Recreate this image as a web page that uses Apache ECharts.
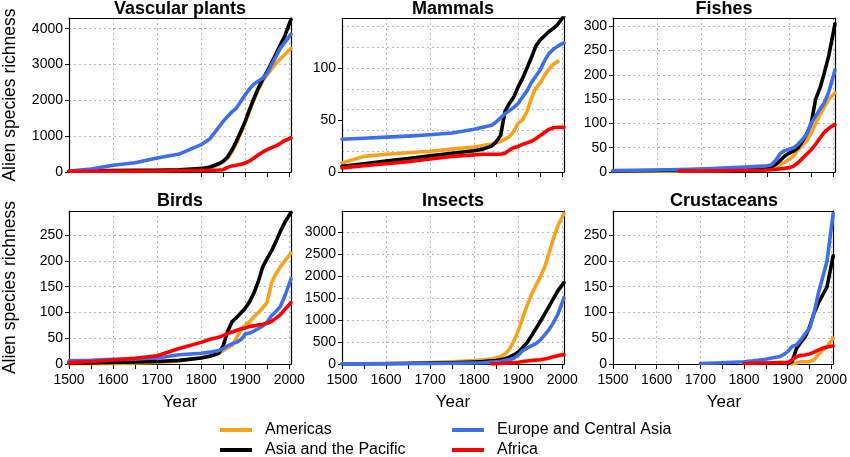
<!DOCTYPE html>
<html>
<head>
<meta charset="utf-8">
<script src="https://cdn.jsdelivr.net/npm/echarts@6/dist/echarts.min.js"></script>
<style>
html,body{margin:0;padding:0;background:#fff;}
#chart{width:850px;height:457px;}
</style>
</head>
<body>
<div id="chart"></div>
<script>
// ---------- DATA ----------
const regions = ['Americas', 'Asia and the Pacific', 'Europe and Central Asia', 'Africa'];
const years = [1500,1550,1600,1650,1700,1750,1800,1820,1840,1850,1860,1870,1880,1890,1900,1910,1920,1930,1940,1950,1960,1970,1980,1990,2004];
const n = null;

const vascularAmericas = [20,25,30,35,40,50,100,120,200,280,380,560,800,1080,1380,1720,2020,2300,2550,2716,2880,3030,3160,3280,3450];
const vascularAsia     = [30,35,40,45,50,60,93,140,230,300,420,620,856,1130,1414,1750,2060,2350,2600,2809,3050,3300,3550,3800,4260];
const vascularEurope   = [30,80,190,260,390,500,763,930,1250,1414,1550,1680,1786,1970,2158,2320,2460,2540,2620,2762,3000,3230,3460,3620,3850];
const vascularAfrica   = [20,20,25,25,30,35,40,45,55,65,130,170,186,215,250,310,390,480,560,623,680,730,800,880,950];

const mammalsAmericas = [8.6,15,17,18.5,20,22,24,25.5,27,28,29.5,31.5,34,39,47,50,58,71,80.7,85.5,93,99,103.5,106.5,n];
const mammalsAsia     = [5.5,8,10.5,13,15.5,18,20.4,22,25,29,35,58,66,72,82,90,100,110,121,127,131,135,138,142,150];
const mammalsEurope   = [31.5,32.5,33.5,34.5,35.8,37.5,41,43,45,48,52,56,59,62,66,72,78,86,92,98,107,114,118,121,124];
const mammalsAfrica   = [4,6,8,10,12.5,15,16.5,17,17,17,17,18,21,23.5,24.6,26.5,28,29.5,32,35,38,41,42.5,43,43];

const fishesAmericas = [1,1,1.5,2,2.5,3,4,5,6,7,8,11,16,20,26,33,45,55,64,80,100,118,134,150,163];
const fishesAsia     = [2,2.5,3,4,5,6,7,8,9,10,11,16,24,33,39,43,50,63,79,100,150,173,205,240,305];
const fishesEurope   = [3,3.5,4,5,6,8,10,11,12,13,15,25,38,44,47,50,57,67,78,100,115,129,143,165,210];
const fishesAfrica   = [n,n,n,2,2,2.5,3,3,3.5,4,4.5,5.5,6.5,7.5,9,12,19,28,37,46,57,70,82,90,98];

const birdsAmericas = [0,0.5,1,2,3,6,12,16,21,26,31,36,50,66,75,82,92,100,109,120,158,175,189,200,215];
const birdsAsia     = [2,2,3,4,5,7,11.6,15,21,35,63,82,90,99,108,121,138,161,189,205,220,238,258,275,294];
const birdsEurope   = [6,7,9,10,11.6,18,21,23,26,30,35,39,42,47,58,60,64,69,74,82,94,102,112,132,165];
const birdsAfrica   = [2.6,5,7.8,11,16,30,42,48,52,55,59,62,65,68,70,73,74,76,77,79,83,89,96,106,119];

const insectsAmericas = [n,n,10,20,35,50,76,95,115,135,170,230,330,520,750,1043,1320,1570,1780,1970,2200,2510,2850,3140,3420];
const insectsAsia     = [0,2,5,10,20,30,45,55,70,80,95,120,155,205,270,370,480,640,800,960,1135,1310,1485,1660,1850];
const insectsEurope   = [5,7,8,10,12,16,23,30,42,50,60,80,100,130,200,300,360,410,460,545,660,780,940,1130,1500];
const insectsAfrica   = [n,n,n,n,n,n,n,n,2,5,10,18,25,32,40,55,68,78,88,98,115,135,165,190,215];

const crustAmericas = [n,n,n,n,n,n,n,n,n,n,n,n,n,n,n,0,2,4.5,4.5,4.5,8,18,27,34,50];
const crustAsia     = [n,n,n,n,n,n,n,n,n,n,n,n,n,n,0,5,30,42,53,72,98,118,134,150,210];
const crustEurope   = [n,n,n,n,1,2.5,4.5,6,8,9,11,12.5,14,18,24,34,37,46.5,59,69,98,137,168,200,292];
const crustAfrica   = [n,n,n,n,n,n,1,1.5,2,2,2.5,2.5,3,3,3,8,14,17,17.4,19.5,23,27,30.5,33,35];

const panelTitles = ['Vascular plants','Mammals','Fishes','Birds','Insects','Crustaceans'];
const yMax   = [4300, 148, 317, 297, 3476, 297];
const ySplit = [1000, 20, 50, 50, 500, 50];
const yTickLabels = [
  [0,1000,2000,3000,4000],
  [0,50,100],
  [0,50,100,150,200,250,300],
  [0,50,100,150,200,250],
  [0,500,1000,1500,2000,2500,3000],
  [0,50,100,150,200,250]
];
const xTickLabels = [1500,1600,1700,1800,1900,2000];
const xTicksTop = [1800,1850,1900,1950,2000];
const xTicksBottom = [1500,1550,1600,1650,1700,1750,1800,1850,1900,1950,2000];
const panelData = [
  [vascularAmericas, vascularAsia, vascularEurope, vascularAfrica],
  [mammalsAmericas, mammalsAsia, mammalsEurope, mammalsAfrica],
  [fishesAmericas, fishesAsia, fishesEurope, fishesAfrica],
  [birdsAmericas, birdsAsia, birdsEurope, birdsAfrica],
  [insectsAmericas, insectsAsia, insectsEurope, insectsAfrica],
  [crustAmericas, crustAsia, crustEurope, crustAfrica]
];

// ---------- STYLE / LAYOUT ----------
const FONT = '"Liberation Sans", Arial, Helvetica, sans-serif';
const colors = ['#F7A21B', '#000000', '#3D6EEB', '#FF0000'];
const colLeft = [69, 342, 613];
const colWidth = 222;
const rowTop = [18, 211];
const rowHeight = [154, 153];
const gridLineStyle = {type: [2, 3], color: '#b8b8b8', width: 1};
const plain = v => String(v);
const frameLine = {show: true, onZero: false, lineStyle: {color: '#000', width: 1.2}};
const off = {show: false};

const grids = [], xAxes = [], yAxes = [], series = [], graphics = [];

for (let i = 0; i < 6; i++) {
  const r = Math.floor(i / 3), c = i % 3;
  grids.push({left: colLeft[c], top: rowTop[r], width: colWidth, height: rowHeight[r], show: false, containLabel: false});
  // x: grid lines
  xAxes.push({gridIndex: i, type: 'value', min: 1500, max: 2004, interval: 100,
    axisLine: off, axisTick: off, axisLabel: off,
    splitLine: {show: true, lineStyle: gridLineStyle}});
  // x: bottom ticks/labels
  xAxes.push({gridIndex: i, type: 'value', min: 1500, max: 2004, position: 'bottom',
    axisLine: frameLine,
    axisTick: {show: true, customValues: r === 0 ? xTicksTop : xTicksBottom, length: 5, lineStyle: {color: '#000', width: 1}},
    axisLabel: {show: r === 1, customValues: xTickLabels, formatter: plain, margin: 9, fontSize: 14, color: '#000', fontFamily: FONT},
    splitLine: off});
  // x: top frame
  xAxes.push({gridIndex: i, type: 'value', min: 1500, max: 2004, position: 'top',
    axisLine: frameLine, axisTick: off, axisLabel: off, splitLine: off});
  // y: grid lines
  yAxes.push({gridIndex: i, type: 'value', min: 0, max: yMax[i], interval: ySplit[i], position: 'left',
    axisLine: off, axisTick: off, axisLabel: off,
    splitLine: {show: true, lineStyle: gridLineStyle}});
  // y: left ticks/labels
  yAxes.push({gridIndex: i, type: 'value', min: 0, max: yMax[i], position: 'left',
    axisLine: frameLine,
    axisTick: {show: true, customValues: yTickLabels[i], length: 4, lineStyle: {color: '#000', width: 1}},
    axisLabel: {show: true, customValues: yTickLabels[i], formatter: plain, margin: 6, fontSize: 14, color: '#000', fontFamily: FONT},
    splitLine: off});
  // y: right frame
  yAxes.push({gridIndex: i, type: 'value', min: 0, max: yMax[i], position: 'right',
    axisLine: frameLine, axisTick: off, axisLabel: off, splitLine: off});

  for (let k = 0; k < 4; k++) {
    const vals = panelData[i][k];
    const data = [];
    years.forEach((y, j) => { if (vals[j] !== null) data.push([y, vals[j]]); });
    series.push({type: 'line', name: regions[k], xAxisIndex: 3 * i, yAxisIndex: 3 * i,
      data: data, showSymbol: false, symbol: 'none', smooth: false, clip: true,
      lineStyle: {color: colors[k], width: 3.6, cap: 'round', join: 'round'},
      itemStyle: {color: colors[k]}, z: 2 + k, emphasis: {disabled: true}});
  }

  const cx = colLeft[c] + colWidth / 2;
  graphics.push({type: 'text', x: cx, y: r === 0 ? 9 : 201, silent: true,
    style: {text: panelTitles[i], align: 'center', verticalAlign: 'middle', textAlign: 'center', textVerticalAlign: 'middle',
      fontSize: 18, fontWeight: 'bold', fontFamily: FONT, fill: '#000'}});
  if (r === 1) {
    graphics.push({type: 'text', x: cx, y: 402, silent: true,
      style: {text: 'Year', align: 'center', verticalAlign: 'middle', textAlign: 'center', textVerticalAlign: 'middle',
        fontSize: 17, fontFamily: FONT, fill: '#000'}});
  }
}
[95, 287.5].forEach(yc => {
  graphics.push({type: 'text', x: 10, y: yc, rotation: Math.PI / 2, silent: true,
    style: {text: 'Alien species richness', align: 'center', verticalAlign: 'middle', textAlign: 'center', textVerticalAlign: 'middle',
      fontSize: 17.5, fontFamily: FONT, fill: '#000'}});
});

const legendCommon = {orient: 'vertical', top: 420, height: 60, itemWidth: 32, itemHeight: 4, icon: 'rect', itemGap: 0, padding: 0,
  selectedMode: false, textStyle: {fontSize: 16, lineHeight: 20, color: '#000', fontFamily: FONT, padding: [0, 0, 0, 8]}};

const option = {
  animation: false,
  backgroundColor: '#fff',
  textStyle: {fontFamily: FONT},
  grid: grids,
  xAxis: xAxes,
  yAxis: yAxes,
  series: series,
  legend: [
    Object.assign({}, legendCommon, {left: 220, data: [regions[0], regions[1]]}),
    Object.assign({}, legendCommon, {left: 452, data: [regions[2], regions[3]]})
  ],
  graphic: graphics
};

const chart = echarts.init(document.getElementById('chart'), null, {renderer: 'canvas'});
chart.setOption(option);
</script>
</body>
</html>
